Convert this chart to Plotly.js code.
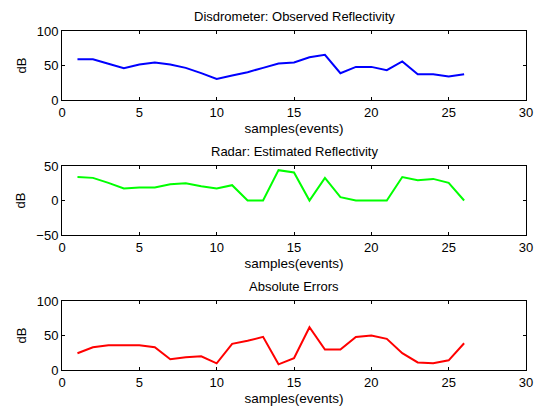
<!DOCTYPE html>
<html>
<head>
<meta charset="utf-8">
<script src="https://cdn.plot.ly/plotly-3.0.1.min.js"></script>
<style>html,body{margin:0;padding:0;background:#fff;}#chart{width:536px;height:408px;}</style>
</head>
<body>
<div id="chart"></div>
<script>
const samples = [1,2,3,4,5,6,7,8,9,10,11,12,13,14,15,16,17,18,19,20,21,22,23,24,25,26];
const observed = [59,59,52.5,46,51.5,54.4,51.5,46.6,39,30.6,35.4,40.3,46.6,53,54.4,62,65.6,38.8,48,48,43.2,55.8,37.3,37.3,34,37.3];
const estimated = [34,32.8,25.5,17.4,18.8,18.8,23.6,25,20.7,17.4,22.2,0,0,44,40.6,0,32.8,4.8,0,0,0,34,29.4,31.3,25.5,0];
const absErrors = [24.3,33,36,36,36,33,15.5,18.4,19.8,9.7,37.9,42.3,48,8.2,17,62,29.6,29.6,48,50,45.2,24.3,11,9.7,14,38.8];
const titles = ["Disdrometer: Observed Reflectivity","Radar: Estimated Reflectivity","Absolute Errors"];
const xTitle = "samples(events)";
const yTitle = "dB";

const font = {family: "Liberation Sans, Arial, sans-serif", size: 13, color: "#000"};
const xdom = [62/536, 526/536];
const ydoms = [[1-100/408, 1-31/408],[1-235/408, 1-166/408],[1-370/408, 1-301/408]];

function xax(anchor, dom) {
  return {domain: xdom, anchor: anchor, range: [0,30], tickvals:[0,5,10,15,20,25,30],
    showline:true, linecolor:'#000', linewidth:1, mirror:'ticks', ticks:'inside', ticklen:3,
    tickcolor:'#000', showgrid:false, zeroline:false, tickfont:font,
    title:{text:xTitle, font:{family:font.family, size:13.5, color:'#000'}, standoff:4}};
}
function yax(anchor, dom, range, tv) {
  return {domain: dom, anchor: anchor, range: range, tickvals: tv,
    showline:true, linecolor:'#000', linewidth:1, mirror:'ticks', ticks:'inside', ticklen:3,
    tickcolor:'#000', showgrid:false, zeroline:false, tickfont:font,
    title:{text:yTitle, font:font, standoff:7}};
}

const traces = [
  {x: samples, y: observed, type:'scatter', mode:'lines', line:{color:'#0000ff', width:2}, xaxis:'x', yaxis:'y'},
  {x: samples, y: estimated, type:'scatter', mode:'lines', line:{color:'#00ff00', width:2}, xaxis:'x2', yaxis:'y2'},
  {x: samples, y: absErrors, type:'scatter', mode:'lines', line:{color:'#ff0000', width:2}, xaxis:'x3', yaxis:'y3'}
];

const annotations = titles.map((t,i)=>({text:t, xref:'paper', yref:'paper', x:(xdom[0]+xdom[1])/2,
  y: ydoms[i][1], yanchor:'bottom', xanchor:'center', yshift:5, showarrow:false, font:font}));

const layout = {
  width:536, height:408, margin:{l:0,r:0,t:0,b:0}, showlegend:false,
  paper_bgcolor:'#fff', plot_bgcolor:'#fff', font:font,
  xaxis: xax('y', ydoms[0]), yaxis: yax('x', ydoms[0], [0,100], [0,50,100]),
  xaxis2: xax('y2', ydoms[1]), yaxis2: yax('x2', ydoms[1], [-50,50], [-50,0,50]),
  xaxis3: xax('y3', ydoms[2]), yaxis3: yax('x3', ydoms[2], [0,100], [0,50,100]),
  annotations: annotations
};
Plotly.newPlot('chart', traces, layout, {staticPlot:true});
</script>
</body>
</html>
